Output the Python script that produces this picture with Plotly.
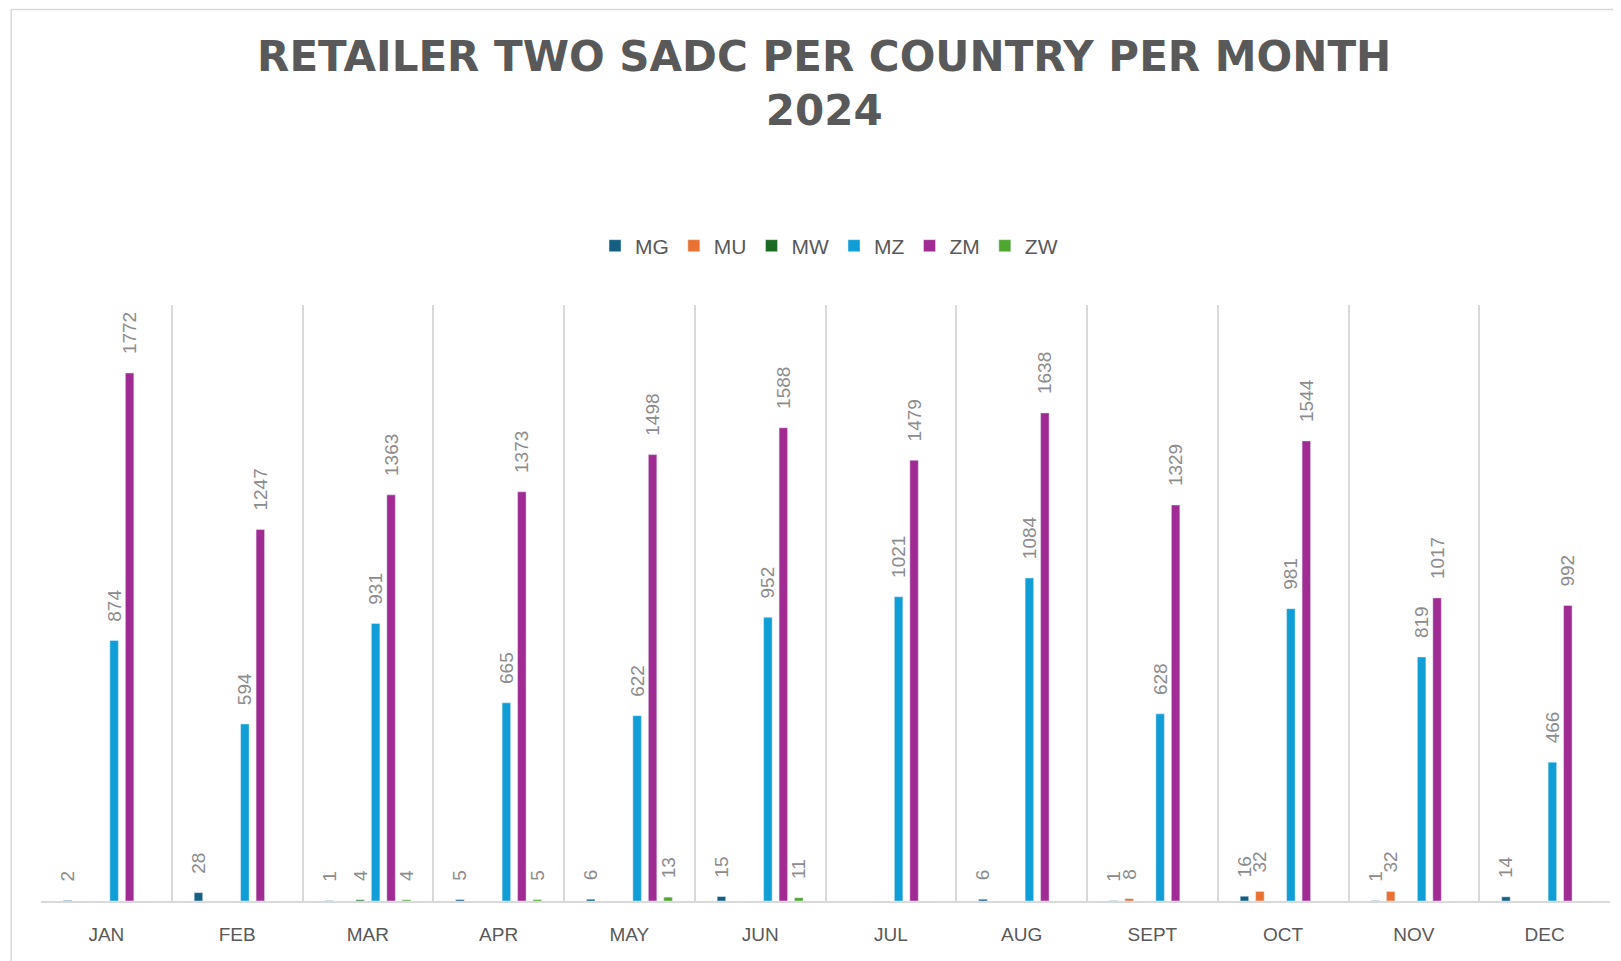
import plotly.graph_objects as go

months = ["JAN", "FEB", "MAR", "APR", "MAY", "JUN", "JUL", "AUG", "SEPT", "OCT", "NOV", "DEC"]

# None = no value for that month (no bar, no label)
mg = [2, 28, 1, 5, 6, 15, None, 6, 1, 16, 1, 14]
mu = [None, None, None, None, None, None, None, None, 8, 32, 32, None]
mw = [None, None, 4, None, None, None, None, None, None, None, None, None]
mz = [874, 594, 931, 665, 622, 952, 1021, 1084, 628, 981, 819, 466]
zm = [1772, 1247, 1363, 1373, 1498, 1588, 1479, 1638, 1329, 1544, 1017, 992]
zw = [None, None, 4, 5, 13, 11, None, None, None, None, None, None]

series = [
    ("MG", mg, "#156082"),
    ("MU", mu, "#E97132"),
    ("MW", mw, "#196B24"),
    ("MZ", mz, "#0F9ED5"),
    ("ZM", zm, "#A02B93"),
    ("ZW", zw, "#4EA72E"),
]

pad = "\u00a0\u00a0\u00a0"  # gap between bar end and its rotated label

fig = go.Figure()
for name, vals, col in series:
    fig.add_trace(go.Bar(
        x=months, y=vals, name=name, marker_color=col,
        text=[("" if v is None else pad + str(v)) for v in vals],
        textposition="outside", textangle=-90,
        textfont=dict(size=19, color="#8c8c8c", family="Liberation Sans"),
        cliponaxis=False, constraintext="none",
    ))

# page has an 8px body margin, so the figure is 8px smaller than the window
fig.update_layout(
    width=1613, height=953,
    barmode="group", bargap=0.29, bargroupgap=0.45,
    plot_bgcolor="white", paper_bgcolor="white",
    margin=dict(l=33, r=11, t=297, b=60),
    font=dict(family="Liberation Sans", color="#595959"),
    title=dict(
        text="<b>RETAILER TWO SADC PER COUNTRY PER MONTH<br>2024</b>",
        x=0.506, xref="container", xanchor="center",
        y=0.934, yref="container", yanchor="middle",
        font=dict(size=42, color="#595959", family="DejaVu Sans"),
    ),
    legend=dict(
        orientation="h", x=0.509, xref="container", xanchor="center",
        y=1 - 238 / 953, yref="container", yanchor="middle",
        font=dict(size=21, color="#595959"), itemwidth=30,
        traceorder="normal",
    ),
    showlegend=True,
)
fig.update_xaxes(
    tickson="boundaries", showgrid=True, gridcolor="#d9d9d9", gridwidth=1.5,
    showline=True, linecolor="#d9d9d9", linewidth=2, ticks="", ticklen=0,
    ticklabelstandoff=15, tickfont=dict(size=19, color="#595959"),
)
fig.update_yaxes(range=[0, 2000], visible=False, showgrid=False)

# chart area border
fig.add_shape(type="rect", xref="paper", yref="paper",
              x0=-0.019, x1=1.05, y0=-0.15, y1=1.496,
              line=dict(color="#d9d9d9", width=1.5), fillcolor="rgba(0,0,0,0)")

fig.write_html("out.html")
